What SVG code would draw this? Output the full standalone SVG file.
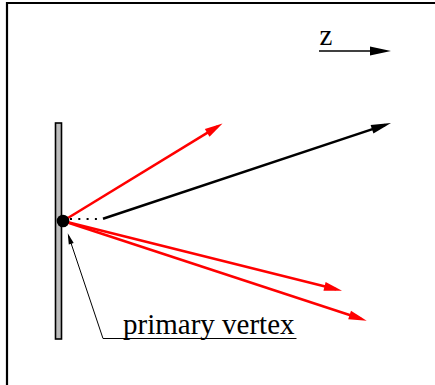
<svg xmlns="http://www.w3.org/2000/svg" width="435" height="385" viewBox="0 0 435 385">
  <style>
    .txt { font-family: "Liberation Serif", "Times New Roman", serif; font-size: 29px; fill: #000; }
    .red { stroke: #ff0000; stroke-width: 2.5; fill: none; }
    .blk { stroke: #000; stroke-width: 2.5; fill: none; }
    .thin { stroke: #000; stroke-width: 1; fill: none; }
  </style>
  <defs>
    <marker id="ah-red" viewBox="-13 -5 20 10" refX="0" refY="0" markerWidth="20" markerHeight="10" markerUnits="userSpaceOnUse" orient="auto">
      <path d="M6,0 L-12,-4.5 L-12,4.5 Z" fill="#ff0000"/>
    </marker>
    <marker id="ah-blk" viewBox="-15 -5 22 10" refX="0" refY="0" markerWidth="22" markerHeight="10" markerUnits="userSpaceOnUse" orient="auto">
      <path d="M6,0 L-14,-4.5 L-14,4.5 Z" fill="#000"/>
    </marker>
    <marker id="ah-z" viewBox="-17 -5 24 10" refX="0" refY="0" markerWidth="24" markerHeight="10" markerUnits="userSpaceOnUse" orient="auto">
      <path d="M6,0 L-15,-4.5 L-15,4.5 Z" fill="#000"/>
    </marker>
    <marker id="ah-thin" viewBox="-10 -4 14 8" refX="0" refY="0" markerWidth="14" markerHeight="8" markerUnits="userSpaceOnUse" orient="auto">
      <path d="M3,0 L-8,-2.6 L-8,2.6 Z" fill="#000"/>
    </marker>
  </defs>

  <rect width="435" height="385" fill="#fff"/>
  <path d="M7,385 V3 H435" stroke="#000" stroke-width="2.2" fill="none"/>

  <g id="detector">
    <rect x="55.5" y="123" width="6" height="216" fill="#bdbdbd" stroke="#000" stroke-width="1.6"/>
  </g>

  <g id="connectors">
    <line class="red" x1="63" y1="221" x2="217.4" y2="126.6" marker-end="url(#ah-red)"/>
    <line class="red" x1="63" y1="221" x2="336.2" y2="289.2" marker-end="url(#ah-red)"/>
    <line class="red" x1="63" y1="221" x2="361" y2="318.8" marker-end="url(#ah-red)"/>
    <line x1="70" y1="219" x2="100" y2="219" stroke="#000" stroke-width="2" stroke-dasharray="2 6.3"/>
    <line class="blk" x1="103" y1="218.7" x2="385.3" y2="124.9" marker-end="url(#ah-blk)"/>
    <line x1="319" y1="51" x2="385" y2="51" stroke="#000" stroke-width="1.4" marker-end="url(#ah-z)"/>
    <path class="thin" d="M296.5,338.5 H103 L68.7,236.2" marker-end="url(#ah-thin)"/>
  </g>

  <g id="vertex">
    <circle cx="63" cy="221" r="6.3" fill="#000"/>
  </g>

  <g id="label-z">
    <text class="txt" x="319.5" y="45">z</text>
  </g>

  <g id="label-vertex">
    <text class="txt" x="123" y="334">primary vertex</text>
  </g>
</svg>
